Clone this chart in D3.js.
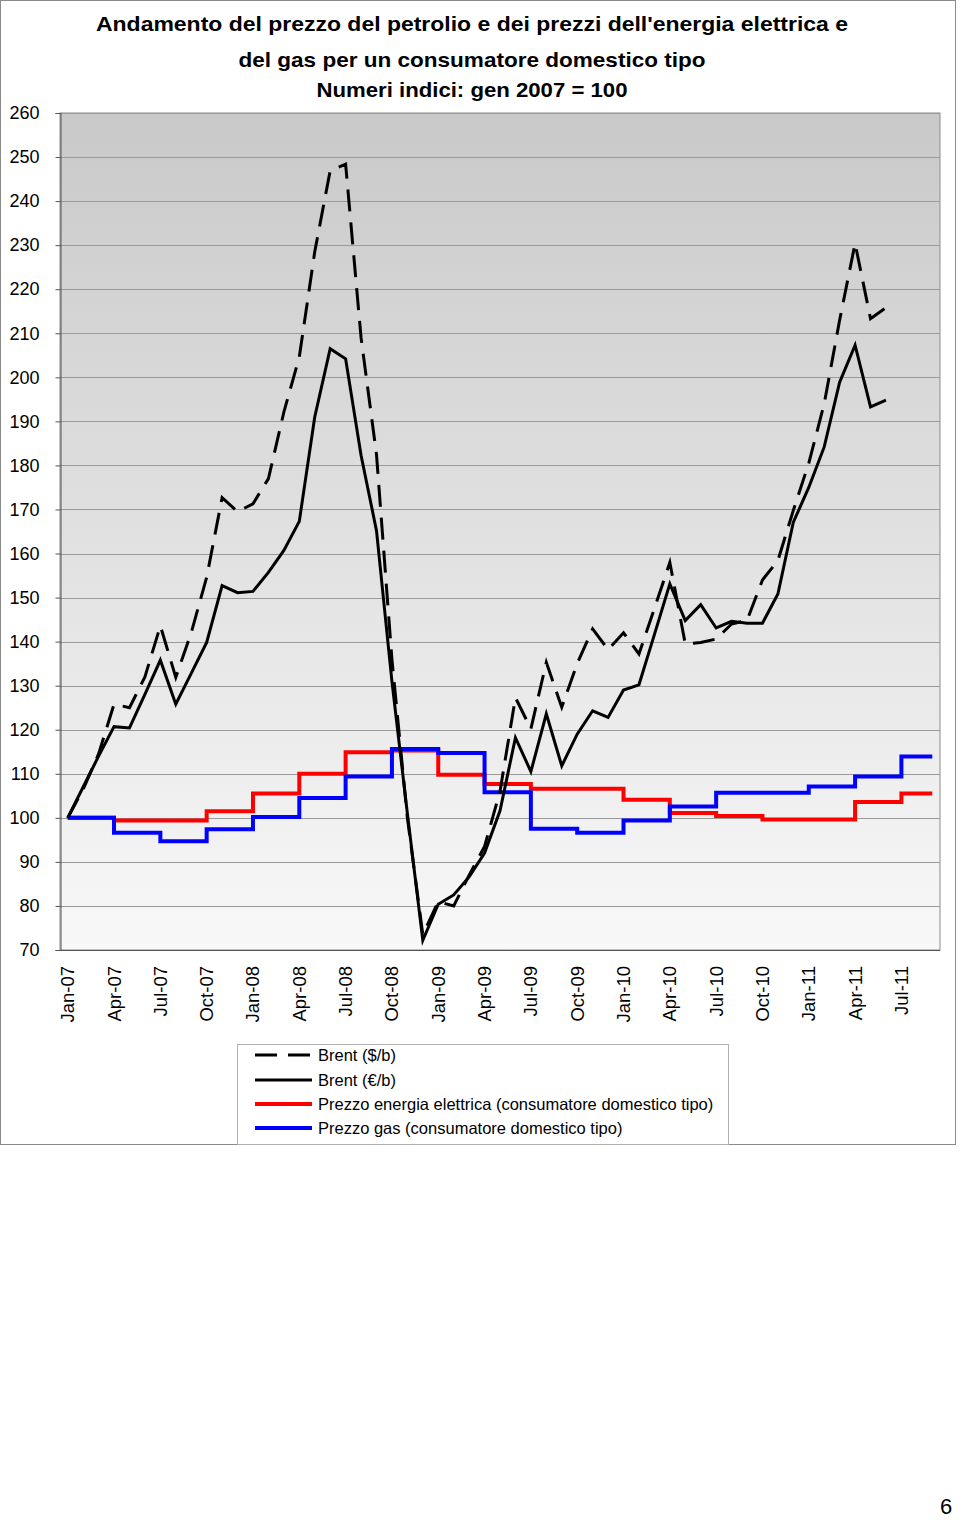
<!DOCTYPE html>
<html>
<head>
<meta charset="utf-8">
<script src="https://cdn.jsdelivr.net/npm/d3@7"></script>
<style>
  html, body { margin: 0; padding: 0; background: #ffffff; }
  svg { display: block; }
  text { font-family: "Liberation Sans", Arial, Helvetica, sans-serif; }
</style>
</head>
<body>
<script>
// ---------- DATA ----------
const months = [
  "Jan-07","Feb-07","Mar-07","Apr-07","May-07","Jun-07","Jul-07","Aug-07","Sep-07","Oct-07","Nov-07","Dec-07",
  "Jan-08","Feb-08","Mar-08","Apr-08","May-08","Jun-08","Jul-08","Aug-08","Sep-08","Oct-08","Nov-08","Dec-08",
  "Jan-09","Feb-09","Mar-09","Apr-09","May-09","Jun-09","Jul-09","Aug-09","Sep-09","Oct-09","Nov-09","Dec-09",
  "Jan-10","Feb-10","Mar-10","Apr-10","May-10","Jun-10","Jul-10","Aug-10","Sep-10","Oct-10","Nov-10","Dec-10",
  "Jan-11","Feb-11","Mar-11","Apr-11","May-11","Jun-11","Jul-11","Aug-11","Sep-11"
];
const xTickLabels = ["Jan-07","Apr-07","Jul-07","Oct-07","Jan-08","Apr-08","Jul-08","Oct-08","Jan-09","Apr-09",
  "Jul-09","Oct-09","Jan-10","Apr-10","Jul-10","Oct-10","Jan-11","Apr-11","Jul-11"];
const yTicks = [70,80,90,100,110,120,130,140,150,160,170,180,190,200,210,220,230,240,250,260];

// Brent ($/b), monthly index Jan-07 .. Jun-11
const brentUSD = [100,106.5,114.5,125.8,125,132,143.6,131.9,142,154.6,172.7,169.5,
  171.3,177,192.1,204.6,228.5,246.9,248.4,209,182.5,136,100,73.5,
  81,80,87,93.5,106,127.3,120.2,135.3,125.1,135,142.9,138.2,
  142,137.2,147.5,158,139.5,139.8,140.6,144,144.8,154,158.4,169.8,
  180.5,194,213,230.4,213.3,215.8];
// Brent (EUR/b), monthly index Jan-07 .. Jun-11
const brentEUR = [100,107,114,120.7,120.4,128,135.8,125.8,132.8,139.8,152.7,151.1,
  151.4,155.7,160.7,167.3,191,206.5,204.2,182.3,165.2,131,101,72.2,
  80.4,82.5,86.6,92,101.6,118.2,110.5,123.6,111.8,119,124.3,122.8,
  129,130.2,141.6,153.1,144.8,148.4,143.1,144.6,144.2,144.2,150.8,167.1,
  175,184.2,198.9,207.3,193.3,194.8];
// Quarterly step series (value valid from quarter start)
const quarters = xTickLabels;
const electricity = [100,99.4,99.4,101.5,105.5,110,114.9,115.3,109.8,107.7,106.6,106.6,104.1,101.1,100.4,99.6,99.6,103.6,105.5];
const gas = [100,96.6,94.7,97.4,100.2,104.5,109.4,115.6,114.7,105.8,97.5,96.6,99.4,102.6,105.7,105.7,107.1,109.4,113.9];

const titleLines = [
  "Andamento del prezzo del petrolio e dei prezzi dell'energia elettrica e",
  "del gas per un consumatore domestico tipo",
  "Numeri indici: gen 2007 = 100"
];
const legendItems = [
  {label: "Brent ($/b)", color: "#000000", dash: "22,11", width: 3},
  {label: "Brent (€/b)", color: "#000000", dash: null, width: 3},
  {label: "Prezzo energia elettrica (consumatore domestico tipo)", color: "#ff0000", dash: null, width: 4},
  {label: "Prezzo gas (consumatore domestico tipo)", color: "#0000ff", dash: null, width: 4}
];

// ---------- LAYOUT ----------
const W = 960, H = 1520;
const plot = {left: 60, right: 940, top: 113, bottom: 950};

const svg = d3.select("body").append("svg").attr("width", W).attr("height", H);
svg.append("rect").attr("width", W).attr("height", H).attr("fill", "#ffffff");

// outer chart border
svg.append("rect").attr("x", 0.5).attr("y", 0.5).attr("width", 955).attr("height", 1144)
  .attr("fill", "none").attr("stroke", "#8a8a8a").attr("stroke-width", 1);

const defs = svg.append("defs");
const grad = defs.append("linearGradient").attr("id", "bg").attr("x1", 0).attr("y1", 0).attr("x2", 0).attr("y2", 1);
grad.append("stop").attr("offset", "0%").attr("stop-color", "#c9c9c9");
grad.append("stop").attr("offset", "100%").attr("stop-color", "#f8f8f8");

const x = d3.scaleBand().domain(months).range([plot.left, plot.right]).paddingInner(0).paddingOuter(0);
const xc = m => x(m) + x.bandwidth() / 2;
const y = d3.scaleLinear().domain([70, 260]).range([plot.bottom, plot.top]);

// plot background
svg.append("rect").attr("x", plot.left).attr("y", plot.top)
  .attr("width", plot.right - plot.left).attr("height", plot.bottom - plot.top)
  .attr("fill", "url(#bg)").attr("stroke", "#8c8c8c").attr("stroke-width", 1);

// gridlines
svg.append("g").selectAll("line").data(yTicks.filter(v => v > 70)).join("line")
  .attr("x1", plot.left).attr("x2", plot.right)
  .attr("y1", d => Math.round(y(d)) + 0.5).attr("y2", d => Math.round(y(d)) + 0.5)
  .attr("stroke", "#9a9a9a").attr("stroke-width", 1);

// y axis
const yAxis = d3.axisLeft(y).tickValues(yTicks).tickSize(5).tickPadding(16).tickFormat(d3.format("d"));
const gy = svg.append("g").attr("transform", `translate(${plot.left + 0.5},0)`).call(yAxis);
gy.select(".domain").attr("stroke", "#555");
gy.selectAll(".tick line").attr("stroke", "#555");
gy.selectAll(".tick text").attr("font-size", 18).attr("fill", "#000")
  .attr("font-family", "'Liberation Sans', Arial, sans-serif");

// x axis line
svg.append("line").attr("x1", plot.left).attr("x2", plot.right)
  .attr("y1", plot.bottom + 0.5).attr("y2", plot.bottom + 0.5)
  .attr("stroke", "#555").attr("stroke-width", 1);

// x labels
svg.append("g").selectAll("text").data(xTickLabels).join("text")
  .attr("transform", d => `translate(${xc(d)},966) rotate(-90)`)
  .attr("text-anchor", "end").attr("dy", "0.35em")
  .attr("font-size", 18.5).attr("fill", "#000").text(d => d);

// step series
const stepLine = d3.line().x(d => d.x).y(d => y(d.v)).curve(d3.curveStepAfter);
function stepPoints(vals) {
  const pts = quarters.map((q, i) => ({x: xc(q), v: vals[i]}));
  pts.push({x: xc(months[months.length - 1]), v: vals[vals.length - 1]});
  return pts;
}
svg.append("path").attr("d", stepLine(stepPoints(electricity)))
  .attr("fill", "none").attr("stroke", "#ff0000").attr("stroke-width", 4).attr("stroke-linejoin", "miter");
svg.append("path").attr("d", stepLine(stepPoints(gas)))
  .attr("fill", "none").attr("stroke", "#0000ff").attr("stroke-width", 4).attr("stroke-linejoin", "miter");

// Brent series
const line = d3.line().x((d, i) => xc(months[i])).y(d => y(d));
svg.append("path").attr("d", line(brentEUR))
  .attr("fill", "none").attr("stroke", "#000").attr("stroke-width", 3).attr("stroke-linejoin", "miter");
svg.append("path").attr("d", line(brentUSD))
  .attr("fill", "none").attr("stroke", "#000").attr("stroke-width", 3)
  .attr("stroke-dasharray", "22,11").attr("stroke-linejoin", "miter");

// title
const titleY = [31, 67, 97];
const titleW = [752, 467, 311];
svg.append("g").selectAll("text").data(titleLines).join("text")
  .attr("x", 472).attr("y", (d, i) => titleY[i])
  .attr("text-anchor", "middle").attr("font-weight", "bold")
  .attr("font-size", 21).attr("fill", "#000")
  .attr("textLength", (d, i) => titleW[i]).attr("lengthAdjust", "spacingAndGlyphs")
  .text(d => d);

// legend
const lg = svg.append("g");
lg.append("rect").attr("x", 237.5).attr("y", 1044.5).attr("width", 491).attr("height", 100)
  .attr("fill", "#fff").attr("stroke", "#b0b0b0").attr("stroke-width", 1);
const rowY = [1055, 1080, 1104, 1128];
legendItems.forEach((it, i) => {
  const l = lg.append("line").attr("x1", 255).attr("x2", 312).attr("y1", rowY[i]).attr("y2", rowY[i])
    .attr("stroke", it.color).attr("stroke-width", it.width);
  if (it.dash) l.attr("stroke-dasharray", it.dash);
  lg.append("text").attr("x", 318).attr("y", rowY[i]).attr("dy", "0.35em")
    .attr("font-size", 16.5).attr("fill", "#000").text(it.label);
});

// page number
svg.append("text").attr("x", 946).attr("y", 1514).attr("text-anchor", "middle")
  .attr("font-family", "'Liberation Serif', 'Times New Roman', serif")
  .attr("font-size", 22).attr("fill", "#000").text("6");
</script>
</body>
</html>
